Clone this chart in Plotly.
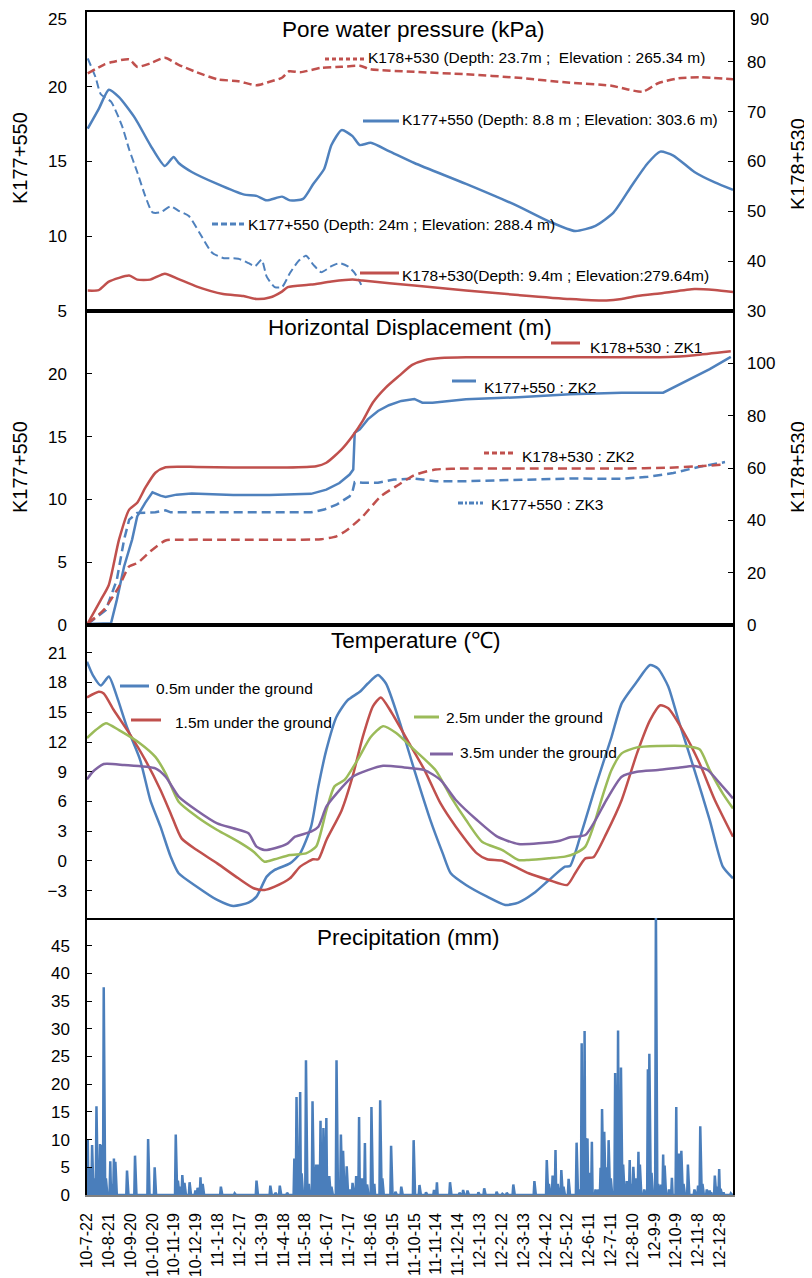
import plotly.graph_objects as go

# ---------------- DATA ----------------
# x values are days since 2010-07-22
x_tick_days = list(range(0, 871, 30))
x_tick_text = ["10-7-22", "10-8-21", "10-9-20", "10-10-20", "10-11-19", "10-12-19",
               "11-1-18", "11-2-17", "11-3-19", "11-4-18", "11-5-18", "11-6-17",
               "11-7-17", "11-8-16", "11-9-15", "11-10-15", "11-11-14", "11-12-14",
               "12-1-13", "12-2-12", "12-3-13", "12-4-12", "12-5-12", "12-6-11",
               "12-7-11", "12-8-10", "12-9-9", "12-10-9", "12-11-8", "12-12-8"]

# Pore water pressure (kPa)
pwp_k178_237_days = [1, 23, 33, 58, 69, 87, 107, 126, 151, 179, 208, 233, 251, 268, 278, 293, 322, 350, 375, 390, 450, 521, 593, 664, 721, 742, 764, 785, 813, 842, 888]
pwp_k178_237_vals = [77.7, 79.4, 79.9, 80.5, 79.0, 79.7, 80.8, 79.4, 77.9, 76.5, 76.1, 75.3, 76.0, 76.8, 78.1, 77.9, 78.8, 79.0, 79.2, 78.5, 78.0, 77.5, 76.8, 75.8, 75.2, 74.5, 74.0, 75.7, 76.7, 76.9, 76.5]

pwp_k177_88_days = [1, 16, 30, 44, 66, 87, 107, 119, 126, 144, 179, 215, 233, 247, 268, 279, 297, 311, 326, 336, 350, 365, 375, 390, 415, 450, 521, 593, 635, 671, 699, 724, 749, 771, 788, 806, 835, 863, 888]
pwp_k177_88_vals = [17.2, 18.5, 19.8, 19.3, 17.9, 16.1, 14.7, 15.3, 14.9, 14.3, 13.5, 12.8, 12.7, 12.4, 12.65, 12.4, 12.5, 13.5, 14.5, 16.1, 17.1, 16.7, 16.1, 16.25, 15.7, 14.9, 13.5, 12.0, 11.0, 10.35, 10.7, 11.6, 13.4, 14.9, 15.66, 15.4, 14.3, 13.6, 13.1]

pwp_k177_24_days = [1, 12, 19, 33, 48, 58, 69, 80, 90, 101, 115, 126, 140, 155, 172, 187, 208, 222, 231, 240, 247, 258, 268, 279, 290, 301, 311, 322, 336, 347, 358, 368, 377]
pwp_k177_24_vals = [21.9, 20.6, 19.5, 19.0, 17.4, 15.8, 14.3, 12.7, 11.6, 11.6, 12.0, 11.7, 11.35, 10.2, 8.9, 8.55, 8.5, 8.2, 8.0, 8.43, 7.3, 6.6, 6.6, 7.54, 8.3, 8.7, 8.1, 7.6, 8.0, 8.2, 8.0, 7.54, 6.75]

pwp_k178_94_days = [1, 16, 30, 58, 69, 87, 107, 126, 151, 187, 215, 233, 251, 268, 276, 308, 336, 365, 379, 450, 521, 593, 664, 714, 735, 756, 792, 835, 863, 888]
pwp_k178_94_vals = [34.1, 34.2, 35.9, 37.1, 36.3, 36.3, 37.5, 36.4, 34.9, 33.4, 33.0, 32.4, 32.7, 33.9, 34.8, 35.3, 35.9, 36.3, 36.1, 35.1, 34.1, 33.2, 32.4, 32.1, 32.4, 33.0, 33.6, 34.4, 34.2, 33.8]

# Horizontal displacement (m)
zk1_k178_days = [1, 19, 30, 44, 58, 69, 80, 94, 108, 151, 201, 272, 315, 329, 350, 365, 379, 393, 411, 429, 447, 464, 486, 521, 593, 664, 735, 799, 835, 885]
zk1_k178_vals = [0.6, 9.6, 15.3, 32.6, 44.1, 46.7, 52.4, 58.2, 60.3, 60.4, 60.2, 60.2, 60.7, 62.0, 67.1, 72.2, 78.0, 85.0, 90.8, 95.2, 99.4, 101.2, 102.0, 102.3, 102.3, 102.3, 102.3, 102.4, 103.1, 104.6]

zk2_k177_days = [1, 33, 41, 51, 62, 69, 80, 90, 101, 108, 123, 144, 201, 251, 308, 329, 347, 361, 366, 368, 375, 386, 400, 415, 432, 450, 461, 475, 521, 593, 664, 735, 792, 806, 828, 856, 885]
zk2_k177_vals = [0.08, 0.13, 2.0, 4.66, 6.8, 8.65, 9.72, 10.57, 10.3, 10.2, 10.38, 10.46, 10.36, 10.36, 10.44, 10.78, 11.3, 11.98, 12.38, 15.3, 15.57, 16.37, 17.04, 17.5, 17.84, 18.0, 17.7, 17.7, 17.97, 18.13, 18.37, 18.5, 18.5, 18.9, 19.57, 20.37, 21.35]

zk2_k178_days = [1, 23, 44, 58, 69, 87, 108, 130, 201, 272, 322, 343, 358, 379, 404, 429, 450, 479, 521, 593, 664, 735, 799, 842, 877]
zk2_k178_vals = [0.6, 5.75, 14.7, 22.4, 23.6, 28.1, 32.3, 32.6, 32.6, 32.6, 32.8, 33.9, 36.4, 41.5, 49.2, 53.7, 57.3, 59.4, 59.8, 59.8, 59.8, 59.8, 60.1, 60.7, 61.35]

zk3_k177_days = [1, 26, 41, 51, 58, 69, 94, 108, 115, 165, 236, 308, 326, 343, 361, 365, 368, 379, 400, 422, 450, 479, 521, 593, 664, 735, 771, 806, 842, 877]
zk3_k177_vals = [0.08, 1.2, 3.6, 6.8, 8.39, 8.92, 8.97, 9.13, 8.97, 8.97, 8.97, 8.97, 9.19, 9.58, 10.25, 10.65, 11.37, 11.32, 11.32, 11.58, 11.66, 11.45, 11.45, 11.58, 11.66, 11.64, 11.8, 12.1, 12.6, 12.97]

# Temperature (C)
t05_days = [0, 8, 19, 30, 41, 55, 73, 87, 101, 115, 126, 151, 179, 201, 222, 233, 247, 258, 279, 293, 308, 318, 329, 343, 358, 375, 386, 400, 411, 429, 450, 472, 489, 500, 521, 550, 575, 593, 614, 635, 657, 664, 678, 699, 721, 735, 756, 774, 785, 799, 813, 835, 856, 874, 888]
t05_vals = [20.1, 18.75, 17.7, 18.6, 16.6, 13.5, 10.2, 6.15, 3.46, 0.44, -1.24, -2.59, -3.93, -4.54, -4.2, -3.6, -1.58, -0.9, -0.24, 0.77, 3.46, 7.5, 11.2, 14.55, 16.2, 17.07, 17.9, 18.75, 17.9, 14.2, 9.17, 4.13, 0.77, -1.24, -2.42, -3.6, -4.44, -4.2, -3.26, -1.92, -0.57, -0.5, 2.45, 7.5, 12.5, 15.9, 18.1, 19.76, 19.4, 17.6, 14.2, 9.17, 4.13, -0.57, -1.75]

t15_days = [0, 16, 23, 37, 58, 80, 101, 115, 130, 151, 179, 208, 229, 244, 258, 279, 293, 311, 318, 329, 350, 365, 379, 393, 404, 418, 443, 464, 486, 507, 536, 550, 571, 593, 607, 635, 660, 671, 685, 696, 714, 735, 756, 774, 788, 799, 821, 842, 863, 888]
t15_vals = [16.5, 17.07, 16.9, 15.2, 12.9, 10.2, 7.16, 4.8, 2.28, 1.1, -0.24, -1.75, -2.75, -2.92, -2.59, -1.75, -0.57, 0.17, 0.17, 2.1, 5.1, 8.5, 12.5, 15.6, 16.5, 15.05, 11.86, 9.17, 5.8, 3.46, 0.77, 0.17, 0.03, -0.74, -1.24, -1.92, -2.42, -1.24, 0.27, 0.37, 2.79, 6.15, 10.85, 14.2, 15.7, 15.4, 12.9, 9.85, 6.15, 2.45]

t25_days = [0, 12, 26, 44, 73, 94, 108, 126, 151, 179, 208, 229, 244, 258, 279, 301, 315, 329, 340, 354, 372, 390, 407, 425, 450, 479, 500, 521, 543, 571, 593, 607, 635, 657, 671, 685, 696, 707, 721, 735, 756, 785, 821, 842, 856, 874, 888]
t25_vals = [12.4, 13.2, 13.9, 13.2, 11.86, 10.5, 8.84, 5.98, 4.47, 3.13, 1.95, 0.94, -0.07, 0.17, 0.6, 0.77, 1.45, 5.1, 7.5, 8.17, 10.2, 12.5, 13.6, 12.9, 11.2, 9.17, 6.5, 4.13, 1.95, 1.1, 0.1, 0.1, 0.27, 0.44, 0.77, 1.45, 3.46, 6.15, 9.17, 10.85, 11.46, 11.6, 11.6, 11.26, 9.17, 6.8, 5.3]

t35_days = [0, 8, 23, 51, 94, 108, 126, 151, 179, 201, 222, 233, 244, 258, 276, 286, 308, 318, 329, 343, 365, 386, 407, 436, 464, 486, 507, 536, 564, 593, 621, 650, 664, 685, 699, 714, 735, 756, 785, 813, 835, 853, 870, 888]
t35_vals = [8.23, 9.0, 9.78, 9.68, 9.34, 8.5, 6.5, 5.1, 3.8, 3.3, 2.79, 1.45, 1.1, 1.28, 1.78, 2.45, 2.95, 3.46, 5.48, 6.8, 8.5, 9.17, 9.61, 9.44, 9.17, 8.17, 6.15, 4.13, 2.45, 1.71, 1.78, 2.05, 2.39, 2.62, 4.13, 6.15, 8.5, 9.0, 9.17, 9.41, 9.58, 9.17, 7.83, 6.32]

# Precipitation (mm): rainy days; all other days are 0
precip_days = [1, 3, 4, 7, 10, 13, 16, 18, 20, 23, 26, 32, 34, 37, 39, 55, 66, 84, 93,
               122, 125, 128, 131, 134, 141, 149, 152, 156, 159, 184, 203, 233, 252, 259, 265, 275,
               285, 288, 291, 293, 295, 301, 305, 310, 313, 315, 317, 321, 325, 329, 333, 336,
               343, 349, 352, 357, 362, 365, 370, 374, 378, 382, 385, 391, 395, 403, 406, 418,
               424, 432, 449, 457, 466, 477, 481, 499, 512, 517, 523, 538, 546, 563, 571, 577, 586,
               615, 632, 635, 640, 644, 647, 652, 655, 662, 673, 676, 680, 684, 686, 688, 690, 694,
               699, 703, 706, 708, 711, 714, 717, 720, 726, 730, 734, 737, 742, 746, 749, 751, 755,
               758, 760, 766, 771, 773, 776, 782, 785, 789, 792, 794, 800, 804, 810, 812, 814, 817,
               820, 826, 835, 840, 843, 846, 852, 856, 858, 863, 866, 869, 871, 875, 885]
precip_mm = [10.0, 4.0, 5.0, 9.0, 3.0, 16.0, 5.0, 9.2, 9.0, 37.5, 3.0, 6.1, 2.0, 6.6, 6.0, 4.4, 7.1, 10.1, 5.0,
             10.9, 2.6, 1.5, 3.6, 2.2, 2.3, 0.8, 1.3, 3.2, 2.0, 1.5, 0.3, 2.6, 1.7, 0.4, 1.7, 0.4,
             6.6, 17.7, 8.0, 18.6, 3.9, 24.3, 2.0, 16.9, 5.0, 5.5, 5.5, 13.4, 12.1, 13.9, 3.4, 1.5,
             24.3, 10.9, 8.0, 5.2, 1.0, 2.2, 3.4, 14.1, 3.0, 9.4, 1.9, 15.9, 2.0, 17.1, 3.0, 8.9,
             0.6, 1.5, 9.9, 1.8, 0.5, 0.9, 2.3, 2.3, 0.4, 0.9, 0.8, 0.5, 1.2, 0.6, 0.2, 0.4, 1.9,
             2.5, 6.3, 2.0, 3.5, 8.1, 2.0, 4.5, 1.5, 2.9, 9.45, 1.0, 27.4, 29.6, 10.3, 10.2, 4.0, 9.6,
             1.0, 1.0, 4.9, 15.5, 11.4, 5.0, 9.9, 3.0, 22.0, 29.7, 23.0, 5.5, 2.5, 6.3, 2.0, 5.1, 3.0,
             7.8, 5.5, 1.0, 22.7, 25.5, 4.0, 52.0, 2.0, 1.9, 7.3, 5.3, 1.0, 3.1, 15.9, 3.0, 7.5, 8.0,
             2.0, 5.5, 1.0, 1.7, 12.4, 2.0, 1.0, 0.8, 0.5, 3.5, 1.5, 4.7, 1.1, 0.5, 0.3]
n_days = 889

# y tick values / labels
pwp_left_ticks = [5, 10, 15, 20, 25]
pwp_right_ticks = [30, 40, 50, 60, 70, 80, 90]
disp_left_ticks = [0, 5, 10, 15, 20]
disp_right_ticks = [0, 20, 40, 60, 80, 100]
temp_ticks = [-3, 0, 3, 6, 9, 12, 15, 18, 21]
precip_ticks = [0, 5, 10, 15, 20, 25, 30, 35, 40, 45]

# ---------------- STYLE ----------------
BLUE = "#4F81BD"
RED = "#C0504D"
GREEN = "#9BBB59"
PURPLE = "#8064A2"
PBLUE = "#4A7EBB"
ARIAL = "Liberation Sans, Arial, sans-serif"
TICKSIZE = 17

# page pixel positions of the plot frame (the html body adds an 8px offset)
OFF = 8
L, R, T, B = 87, 733, 12, 1195
W, H = 812 - OFF, 1278 - OFF


def px(x):
    return (x - L) / (R - L)


def py(y):
    return (B - y) / (B - T)


dom1 = [py(311), 1.0]
dom2 = [py(625), py(311)]
dom3 = [py(918), py(625)]
dom4 = [0.0, py(918)]

fig = go.Figure()


def line(x, y, color, xa, ya, dash="solid", width=2.5, shape="spline"):
    fig.add_trace(go.Scatter(x=x, y=y, mode="lines", xaxis=xa, yaxis=ya,
                             line=dict(color=color, width=width, dash=dash, shape=shape,
                                       smoothing=0.6),
                             showlegend=False, hoverinfo="skip"))


# Panel 1
line(pwp_k178_237_days, pwp_k178_237_vals, RED, "x", "y5", dash="8px,4px")
line(pwp_k177_88_days, pwp_k177_88_vals, BLUE, "x", "y")
line(pwp_k177_24_days, pwp_k177_24_vals, BLUE, "x", "y", dash="8px,4px", width=2)
line(pwp_k178_94_days, pwp_k178_94_vals, RED, "x", "y5")

# Panel 2
line(zk1_k178_days, zk1_k178_vals, RED, "x2", "y6")
line(zk2_k177_days, zk2_k177_vals, BLUE, "x2", "y2", shape="linear")
line(zk2_k178_days, zk2_k178_vals, RED, "x2", "y6", dash="9px,5px")
line(zk3_k177_days, zk3_k177_vals, BLUE, "x2", "y2", dash="9px,5px", shape="linear")

# Panel 3
line(t05_days, t05_vals, BLUE, "x3", "y3")
line(t15_days, t15_vals, RED, "x3", "y3")
line(t25_days, t25_vals, GREEN, "x3", "y3")
line(t35_days, t35_vals, PURPLE, "x3", "y3")

# Panel 4 : daily precipitation
rain = dict(zip(precip_days, precip_mm))
all_days = list(range(n_days))
all_rain = [rain.get(d, 0.0) for d in all_days]
line(all_days, all_rain, PBLUE, "x4", "y4", width=2.5, shape="linear")

xbase = dict(range=[0, 888], showgrid=False, zeroline=False, showline=True,
             linecolor="black", linewidth=1.5, mirror=True, ticks="",
             showticklabels=False, automargin=False)
ybase = dict(showgrid=False, zeroline=False, showline=True, linecolor="black",
             linewidth=1.5, mirror=True, ticks="inside", ticklen=5, tickcolor="black",
             tickfont=dict(family=ARIAL, size=TICKSIZE, color="black"), ticklabelstandoff=15,
             ticklabeloverflow="allow", automargin=False)


def labels(vals, hide_last=False):
    out = [str(v) for v in vals]
    if hide_last:
        out[-1] = ""  # drawn separately so that it is not clipped at the page top
    return out


fig.update_layout(
    width=W, height=H,
    margin=dict(l=L - OFF, r=812 - R, t=T - OFF, b=1278 - B, autoexpand=False),
    paper_bgcolor="white", plot_bgcolor="white",
    showlegend=False,
    xaxis=dict(xbase, anchor="y"),
    xaxis2=dict(xbase, anchor="y2", matches="x"),
    xaxis3=dict(xbase, anchor="y3", matches="x"),
    xaxis4=dict(xbase, anchor="y4", matches="x", mirror=False, linecolor="#808080",
                showticklabels=True, tickmode="array", tickvals=x_tick_days,
                ticktext=x_tick_text, tickangle=-90, ticklabelstandoff=10,
                tickfont=dict(family=ARIAL, size=16, color="black")),
    yaxis=dict(ybase, domain=dom1, range=[5, 25], tickvals=pwp_left_ticks,
               ticktext=labels(pwp_left_ticks, True), anchor="x"),
    yaxis5=dict(ybase, overlaying="y", side="right", range=[30, 90],
                tickvals=pwp_right_ticks, ticktext=labels(pwp_right_ticks, True),
                anchor="x", showline=False, ticklabelstandoff=13),
    yaxis2=dict(ybase, domain=dom2, range=[0, 25], tickvals=disp_left_ticks, anchor="x2"),
    yaxis6=dict(ybase, overlaying="y2", side="right", range=[0, 120],
                tickvals=disp_right_ticks, anchor="x2", showline=False,
                ticklabelstandoff=13),
    yaxis3=dict(ybase, domain=dom3, range=[-5.75, 23.8],
                tickvals=temp_ticks, anchor="x3"),
    yaxis4=dict(ybase, domain=dom4, range=[0, 50],
                tickvals=precip_ticks, anchor="x4", ticklabelstandoff=12),
)

annotations = []
shapes = []


def text(x, y, s, size=15.5, family=ARIAL, xanchor="left", angle=0, yanchor="middle"):
    annotations.append(dict(x=px(x), y=py(y), xref="paper", yref="paper", text=s,
                            showarrow=False, xanchor=xanchor, yanchor=yanchor,
                            textangle=angle, borderpad=0,
                            font=dict(family=family, size=size, color="black")))


def sample(x0, x1, y, color, dash="solid", width=3):
    shapes.append(dict(type="line", xref="paper", yref="paper",
                       x0=px(x0), x1=px(x1), y0=py(y), y1=py(y),
                       line=dict(color=color, width=width, dash=dash)))


# top tick labels of panel 1 (kept inside the page)
text(68, 8.5, str(pwp_left_ticks[-1]), size=TICKSIZE, xanchor="right", yanchor="top")
text(749, 8.5, str(pwp_right_ticks[-1]), size=TICKSIZE, xanchor="left", yanchor="top")

# Titles
text(413, 29, "Pore water pressure (kPa)", size=22.5, xanchor="center")
text(410, 327, "Horizontal Displacement (m)", size=22.5, xanchor="center")
text(416, 640, "Temperature (\u2103)", size=22.5, xanchor="center")
text(408, 937, "Precipitation (mm)", size=22.5, xanchor="center")

# Axis titles
text(20, 158, "K177+550", size=20, xanchor="center", angle=-90)
text(20, 467, "K177+550", size=20, xanchor="center", angle=-90)
text(798, 164, "K178+530", size=20, xanchor="center", angle=-90)
text(798, 467, "K178+530", size=20, xanchor="center", angle=-90)

# Panel 1 labels
sample(325, 365, 59, RED, "4px,3px")
text(367, 57, "K178+530 (Depth: 23.7m ;  Elevation : 265.34 m)")
sample(363, 399, 121, BLUE)
text(401, 120, "K177+550 (Depth: 8.8 m ; Elevation: 303.6 m)")
sample(212, 244, 224, BLUE, "6px,3px")
text(247, 225, "K177+550 (Depth: 24m ; Elevation: 288.4 m)")
sample(360, 399, 273, RED)
text(401, 276, "K178+530(Depth: 9.4m ; Elevation:279.64m)")

# Panel 2 labels
sample(551, 580, 343, RED)
text(589, 347, "K178+530 : ZK1")
sample(452, 476, 381, BLUE)
text(483, 387, "K177+550 : ZK2")
sample(484, 513, 453, RED, "5px,3px")
text(521, 456, "K178+530 : ZK2")
sample(458, 483, 503, BLUE, "5px,2px,2px,2px")
text(490, 505, "K177+550 : ZK3")

# Panel 3 labels
sample(120, 149, 686, BLUE)
text(155, 688, "0.5m under the ground")
sample(131, 161, 720, RED)
text(174, 722, "1.5m under the ground")
sample(414, 439, 717, GREEN)
text(445, 717, "2.5m under the ground")
sample(430, 453, 754, PURPLE)
text(459, 752, "3.5m under the ground")

fig.update_layout(annotations=annotations, shapes=shapes)

fig.write_html("out.html")
